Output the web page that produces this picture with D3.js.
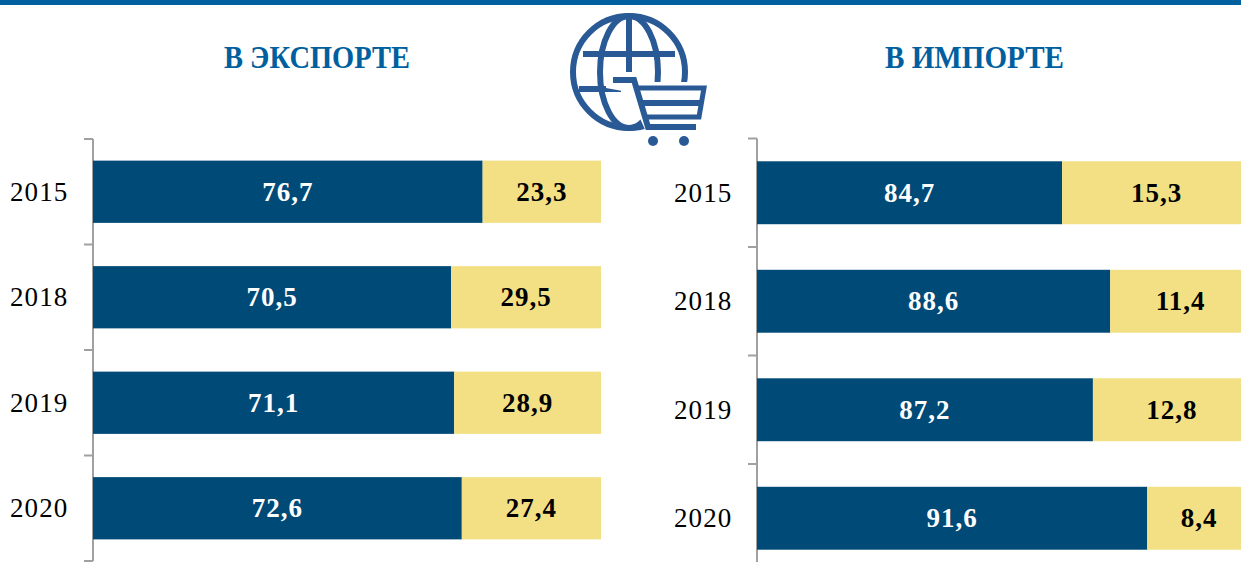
<!DOCTYPE html>
<html><head><meta charset="utf-8">
<script src="https://cdn.jsdelivr.net/npm/d3@7/dist/d3.min.js"></script>
<style>html,body{margin:0;padding:0;background:#fff;overflow:hidden}svg{display:block}
text{font-family:"Liberation Serif",serif}</style></head>
<body><script>
const years = ["2015","2018","2019","2020"];
const exportMain = [76.7,70.5,71.1,72.6];
const exportOther = [23.3,29.5,28.9,27.4];
const importMain = [84.7,88.6,87.2,91.6];
const importOther = [15.3,11.4,12.8,8.4];
const titles = ["В ЭКСПОРТЕ","В ИМПОРТЕ"];
const NAVY="#004a77", YEL="#f3e084", BLUE="#005f9e", GREY="#a0a0a0", ICON="#2a5a96";
const fmt = v => String(v).replace(".",",");
const svg = d3.select("body").append("svg").attr("width",1241).attr("height",562);
svg.append("rect").attr("width",1241).attr("height",5).attr("fill",BLUE);

function panel(main, other, cfg){
  const x = d3.scaleLinear().domain(cfg.domain).range([cfg.x0,cfg.x1]);
  const y = d3.scaleBand().domain(years).range([cfg.y0,cfg.y1]).paddingInner(cfg.pad).paddingOuter(cfg.pad/2);
  const g = svg.append("g");
  const axis = d3.axisLeft(y).tickSize(0).tickPadding(24);
  const ax = g.append("g").attr("transform",`translate(${cfg.x0},0)`).call(axis);
  ax.select(".domain").remove();
  ax.selectAll("text").attr("font-size",27).attr("letter-spacing",1.1).attr("fill","#000").attr("font-family","Liberation Serif")
    .attr("text-anchor","start").attr("x",cfg.labelX-cfg.x0).attr("dy","0.33em");
  const bounds = d3.range(years.length+1).map(i=>cfg.y0+i*y.step());
  g.append("line").attr("x1",cfg.x0).attr("x2",cfg.x0).attr("y1",cfg.y0).attr("y2",cfg.y1).attr("stroke",GREY).attr("stroke-width",2);
  g.selectAll("line.t").data(bounds).join("line").attr("class","t").attr("x1",cfg.x0-9).attr("x2",cfg.x0).attr("y1",d=>d).attr("y2",d=>d).attr("stroke",GREY).attr("stroke-width",2);
  g.selectAll("rect.m").data(years).join("rect").attr("class","m").attr("x",cfg.x0).attr("y",d=>y(d)).attr("height",y.bandwidth())
    .attr("width",(d,i)=>x(main[i])-cfg.x0).attr("fill",NAVY);
  g.selectAll("rect.o").data(years).join("rect").attr("class","o").attr("x",(d,i)=>x(main[i])).attr("y",d=>y(d)).attr("height",y.bandwidth())
    .attr("width",(d,i)=>cfg.x1-x(main[i])).attr("fill",YEL);
  const lab=(cls,vals,fx,col)=>g.selectAll("text."+cls).data(years).join("text").attr("class",cls)
    .attr("x",(d,i)=>fx(i)).attr("y",d=>y(d)+y.bandwidth()/2+9).attr("text-anchor","middle")
    .attr("font-size",27).attr("font-weight","bold").attr("letter-spacing",1).attr("fill",col).text((d,i)=>fmt(vals[i]));
  lab("lm",main,i=>(cfg.x0+x(main[i]))/2,"#fff");
  lab("lo",other,i=>(x(main[i])+cfg.x1)/2,"#000");
}
panel(exportMain,exportOther,{domain:[0,100],x0:93,x1:601,y0:139,y1:561,pad:0.41,labelX:10});
panel(importMain,importOther,{domain:[60,100],x0:757,x1:1251,y0:138.5,y1:572.5,pad:0.42,labelX:674});

svg.selectAll("text.title").data(titles).join("text").attr("class","title")
  .attr("x",(d,i)=>[224,885][i]).attr("y",68)
  .attr("textLength",(d,i)=>[186,179][i]).attr("lengthAdjust","spacingAndGlyphs")
  .attr("font-size",32).attr("font-weight","bold").attr("fill",BLUE).text(d=>d);

// globe-and-cart icon
const ic = svg.append("g").attr("fill","none").attr("stroke",ICON).attr("stroke-width",6);
const cx=629, cy=72, r=56;
ic.append("circle").attr("cx",cx).attr("cy",cy).attr("r",r);
ic.append("ellipse").attr("cx",cx).attr("cy",cy).attr("rx",29).attr("ry",r);
ic.append("line").attr("x1",cx).attr("x2",cx).attr("y1",cy-r).attr("y2",cy);
ic.append("line").attr("x1",cx-46).attr("x2",cx+46).attr("y1",cy-18).attr("y2",cy-18);
ic.append("line").attr("x1",cx-50).attr("x2",cx-8).attr("y1",cy+17).attr("y2",cy+17);
const cart = svg.append("g").attr("fill","none").attr("stroke",ICON);
cart.append("path").attr("d","M636 82H712V136H648L628 92L606 88V74H634Z").attr("fill","#fff").attr("stroke","none");
cart.append("path").attr("d","M613 80H634L648 127H696").attr("stroke-width",6);
cart.append("path").attr("d","M638 88H704L699 117H646").attr("stroke-width",5);
cart.append("path").attr("d","M642 103H701").attr("stroke-width",6);
cart.selectAll("circle").data([653,684]).join("circle").attr("cx",d=>d).attr("cy",141).attr("r",5).attr("fill",ICON).attr("stroke","none");
</script></body></html>
